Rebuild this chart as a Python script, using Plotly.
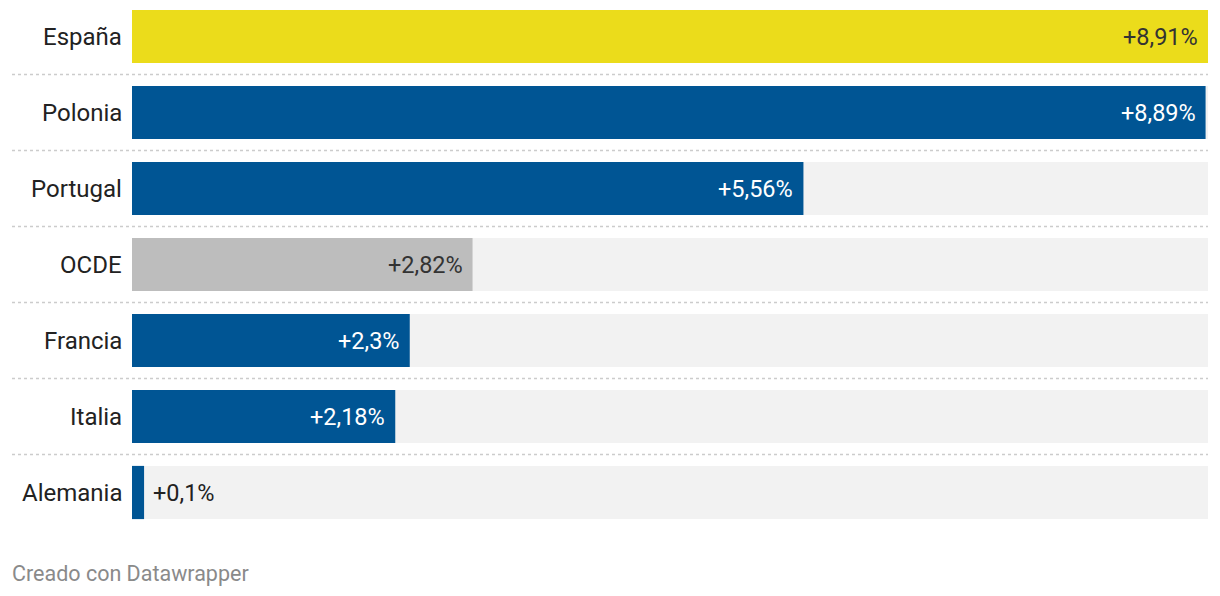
import plotly.graph_objects as go

countries = ["España", "Polonia", "Portugal", "OCDE", "Francia", "Italia", "Alemania"]
values = [8.91, 8.89, 5.56, 2.82, 2.30, 2.18, 0.10]
labels = ["+8,91%", "+8,89%", "+5,56%", "+2,82%", "+2,3%", "+2,18%", "+0,1%"]
bar_colors = ["#ebdc1b", "#005594", "#005594", "#bdbdbd", "#005594", "#005594", "#005594"]
label_colors = ["#333333", "#ffffff", "#ffffff", "#333333", "#ffffff", "#ffffff", "#333333"]

xmax = max(values)
ypos = list(range(len(countries)))

fig = go.Figure()
fig.add_trace(go.Bar(
    x=[xmax] * len(countries), y=ypos, orientation="h", width=0.7,
    marker=dict(color="#f2f2f2", line=dict(width=0)), hoverinfo="skip", showlegend=False))
fig.add_trace(go.Bar(
    x=values, y=ypos, orientation="h", width=0.7,
    marker=dict(color=bar_colors, line=dict(width=0)), showlegend=False))

annotations = []
font_family = "Roboto, sans-serif"
for i, (c, v, lab, lc) in enumerate(zip(countries, values, labels, label_colors)):
    annotations.append(dict(x=0, y=i, xref="x", yref="y", text=c, showarrow=False,
                            xanchor="right", xshift=-8, font=dict(family=font_family, size=24, color="#222222")))
    if v / xmax < 0.1:
        annotations.append(dict(x=v, y=i, xref="x", yref="y", text=lab, showarrow=False,
                                xanchor="left", xshift=7, font=dict(family=font_family, size=23.5, color="#222222")))
    else:
        annotations.append(dict(x=v, y=i, xref="x", yref="y", text=lab, showarrow=False,
                                xanchor="right", xshift=-8, font=dict(family=font_family, size=23.5, color=lc)))

plot_w, plot_h = 1076, 524
annotations.append(dict(x=-122 / plot_w, y=1 - 565 / plot_h, xref="paper", yref="paper",
                        text="Creado con Datawrapper", showarrow=False, xanchor="left", yanchor="middle",
                        font=dict(family=font_family, size=21.5, color="#8a8a8a")))

shapes = []
for i in range(len(countries) - 1):
    shapes.append(dict(type="line", xref="paper", yref="y", x0=-120 / plot_w, x1=1, y0=i + 0.5, y1=i + 0.5,
                       line=dict(color="#cccccc", width=1.5, dash="dot")))

fig.update_layout(
    width=1220, height=596,
    margin=dict(l=124, r=20, t=0, b=72, pad=0),
    barmode="overlay",
    plot_bgcolor="white", paper_bgcolor="white",
    xaxis=dict(range=[0, xmax], visible=False, fixedrange=True),
    yaxis=dict(range=[-0.375 + plot_h / 76, -0.375], visible=False, fixedrange=True),
    annotations=annotations,
    shapes=shapes,
)

fig.write_html("out.html")
